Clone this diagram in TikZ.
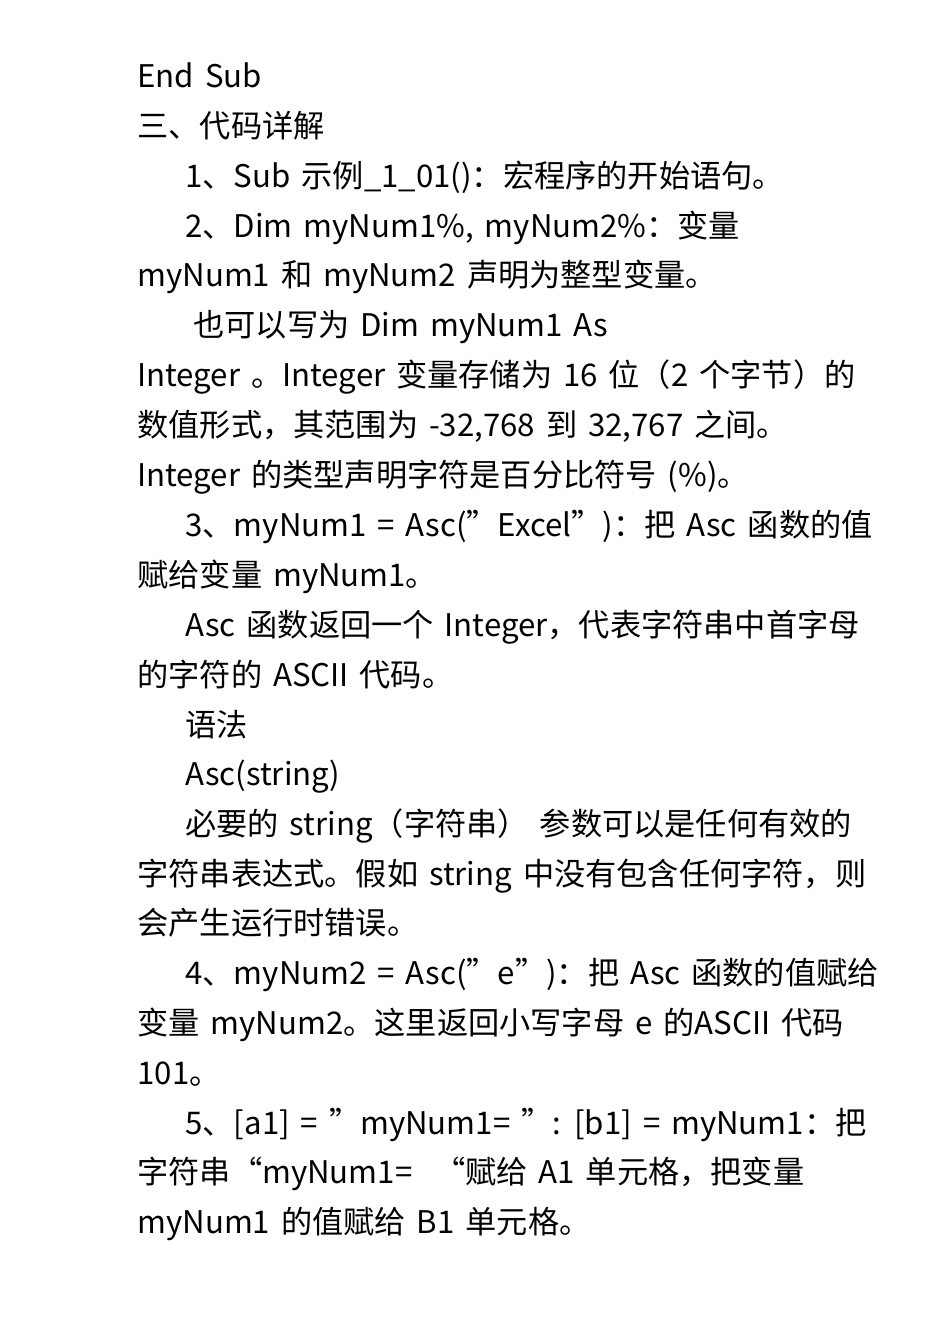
\documentclass[tikz,border=0pt]{standalone}
\usepackage{fontspec}
\setmainfont{Noto Sans CJK SC}
\newcommand{\dq}{\char34\relax}
\newcommand{\myfnt}{\fontsize{15.6pt}{17pt}\selectfont\spaceskip=0.35em plus 0.1em\relax}
\begin{document}
\begin{tikzpicture}[x=0.5pt,y=-0.5pt,tl/.style={anchor=base west,inner sep=0pt,font=\myfnt}]
\useasboundingbox (0,0) rectangle (950,1344);
\node[tl] (l1) at (137,87) {End Sub};
\node[tl] (l2) at (137,137) {三、代码详解};
\node[tl] (l3) at (185,187) {1、Sub 示例\_1\_01()：宏程序的开始语句。};
\node[tl] (l4) at (185,237) {2、Dim myNum1\%, myNum2\%：变量};
\node[tl] (l5) at (137,286) {myNum1 和 myNum2 声明为整型变量。};
\node[tl] (l6) at (193,336) {也可以写为 Dim myNum1 As};
\node[tl] (l7) at (137,386) {Integer 。Integer 变量存储为 16 位（2 个字节）的};
\node[tl] (l8) at (137,436) {数值形式，其范围为 -32,768 到 32,767 之间。};
\node[tl] (l9) at (137,486) {Integer 的类型声明字符是百分比符号 (\%)。};
\node[tl] (l10) at (185,536) {3、myNum1 = Asc(\dq Excel\dq)：把 Asc 函数的值};
\node[tl] (l11) at (137,586) {赋给变量 myNum1。};
\node[tl] (l12) at (185,636) {Asc 函数返回一个 Integer，代表字符串中首字母};
\node[tl] (l13) at (137,686) {的字符的 ASCII 代码。};
\node[tl] (l14) at (185,736) {语法};
\node[tl] (l15) at (185,785) {Asc(string)};
\node[tl] (l16) at (185,835) {必要的 string（字符串） 参数可以是任何有效的};
\node[tl] (l17) at (137,885) {字符串表达式。假如 string 中没有包含任何字符，则};
\node[tl] (l18) at (137,934) {会产生运行时错误。};
\node[tl] (l19) at (185,984) {4、myNum2 = Asc(\dq e\dq)：把 Asc 函数的值赋给};
\node[tl] (l20) at (137,1034) {变量 myNum2。这里返回小写字母 e 的ASCII 代码};
\node[tl] (l21) at (137,1084) {101。};
\node[tl] (l22) at (185,1134) {5、[a1] = \dq myNum1= \dq: [b1] = myNum1：把};
\node[tl] (l23) at (137,1183) {字符串“myNum1=\ \ “赋给 A1 单元格，把变量};
\node[tl] (l24) at (137,1233) {myNum1 的值赋给 B1 单元格。};
\end{tikzpicture}
\end{document}
